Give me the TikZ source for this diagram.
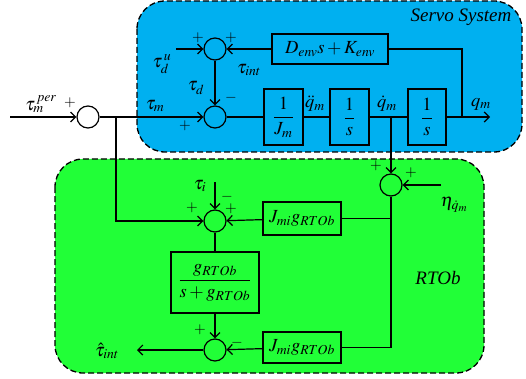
\documentclass[tikz,border=0pt]{standalone}
\usepackage{amsmath}
\usepackage{mathptmx}
\usepackage[no-math]{fontspec}
\setmainfont{Liberation Serif}
\usetikzlibrary{arrows.meta}
\definecolor{servoblue}{RGB}{0,176,240}
\definecolor{rtobgreen}{RGB}{33,255,55}
\begin{document}
\begin{tikzpicture}[x=1pt,y=-1pt,
  every node/.style={font=\fontsize{18.5}{20}\selectfont},
  sumnode/.style={circle,draw,line width=1.2pt,minimum size=22pt,inner sep=0pt},
  blockbox/.style={draw,line width=1.2pt,inner sep=0pt},
  region/.style={draw,dashed,dash pattern=on 6pt off 3pt,line width=1.3pt,rounded corners=28pt},
  sig/.style={line width=1.2pt},
  arr/.style={sig,-{Straight Barb[length=5pt,width=10pt,line width=1.2pt]}},
  sgn/.style={inner sep=0pt,font=\fontsize{15}{17}\selectfont},
  lbl/.style={inner sep=0pt}]
\useasboundingbox (0,0) rectangle (526,379);
% regions
\draw[region,fill=servoblue] (137,1) rectangle (522,152);
\draw[region,fill=rtobgreen] (55,159) rectangle (484,373);
\node[lbl,font=\fontsize{19}{21}\selectfont\itshape] (servo) at (461,17) {Servo System};
\node[lbl,font=\fontsize{19}{21}\selectfont\itshape] (rtob) at (438,278) {RTOb};
% sum junctions
\node[sumnode] (s1) at (88,117) {};
\node[sumnode] (s2) at (215,117) {};
\node[sumnode] (s3) at (215,49) {};
\node[sumnode] (s4) at (215,221) {};
\node[sumnode] (s5) at (391,185) {};
\node[sumnode] (s6) at (215,350) {};
% blocks
\node[blockbox,minimum width=116pt,minimum height=30pt] (benv) at (330,49) {$D_{env}s+K_{env}$};
\node[blockbox,minimum width=39pt,minimum height=56pt] (bJ) at (283.5,117) {$\dfrac{1}{J_m}$};
\node[blockbox,minimum width=39pt,minimum height=56pt] (bs1) at (349.5,117) {$\dfrac{1}{s}$};
\node[blockbox,minimum width=38pt,minimum height=56pt] (bs2) at (427,117) {$\dfrac{1}{s}$};
\node[blockbox,minimum width=78pt,minimum height=33pt] (bjg1) at (302,218.5) {$J_{mi}g_{RTOb}$};
\node[blockbox,minimum width=78pt,minimum height=31pt] (bjg2) at (302,347.5) {$J_{mi}g_{RTOb}$};
\node[blockbox,minimum width=88pt,minimum height=61pt] (bg) at (215,282.5) {$\dfrac{g_{RTOb}}{s+g_{RTOb}}$};
% free ends
\coordinate (in) at (10,117);
\coordinate (br1) at (116,117);
\coordinate (br1d) at (116,221);
\coordinate (tdu) at (176,49);
\coordinate (envc) at (462,49);
\coordinate (envd) at (462,117);
\coordinate (qdot) at (391,117);
\coordinate (out) at (490,117);
\coordinate (eta) at (441,185);
\coordinate (taui) at (215,182);
\coordinate (j1) at (391,218.5);
\coordinate (j2) at (391,347.5);
\coordinate (out2) at (137,350);
% connectors
\draw[arr] (in) -- (s1);
\draw[arr] (s1) -- (s2);
\draw[arr] (tdu) -- (s3);
\draw[arr] (benv) -- (s3);
\draw[arr] (s3) -- (s2);
\draw[sig] (benv.east) -- (envc) -- (envd);
\draw[sig] (s2) -- (bJ);
\draw[sig] (bJ) -- (bs1);
\draw[sig] (bs1) -- (bs2);
\draw[arr] (bs2) -- (out);
\draw[arr] (qdot) -- (s5);
\draw[arr] (eta) -- (s5);
\draw[sig] (s5) -- (j2) -- (bjg2);
\draw[sig] (j1) -- (bjg1);
\draw[arr] (bjg1) -- (s4);
\draw[arr] (bjg2) -- (s6);
\draw[arr] (br1) -- (br1d) -- (s4);
\draw[arr] (taui) -- (s4);
\draw[sig] (s4) -- (bg);
\draw[arr] (bg) -- (s6);
\draw[arr] (s6) -- (out2);
% signal labels
\node[lbl] (ltper) at (41,104) {$\tau_m^{\,per}$};
\node[lbl] (ltm) at (155,106) {$\tau_m$};
\node[lbl] (ltdu) at (162,64) {$\tau_d^{\,u}$};
\node[lbl] (ltint) at (249,70) {$\tau_{int}$};
\node[lbl] (ltd) at (196,88) {$\tau_d$};
\node[lbl] (lqdd) at (315,104) {$\ddot q_m$};
\node[lbl] (lqd) at (387,104) {$\dot q_m$};
\node[lbl] (lq) at (481,104) {$q_m$};
\node[lbl] (lti) at (200,186) {$\tau_i$};
\node[lbl] (leta) at (454,205) {$\eta_{\dot q_m}$};
\node[lbl] (lthat) at (107,351) {$\hat\tau_{int}$};
% signs
\node[sgn] at (70,103) {$+$};
\node[sgn] at (185,126) {$+$};
\node[sgn] at (231,98) {$-$};
\node[sgn] at (198,38) {$+$};
\node[sgn] at (231,38) {$+$};
\node[sgn] at (192,208) {$+$};
\node[sgn] at (227,197) {$-$};
\node[sgn] at (231,209) {$+$};
\node[sgn] at (376,166) {$+$};
\node[sgn] at (411,173) {$+$};
\node[sgn] at (200,330) {$+$};
\node[sgn] at (237,343) {$-$};
\end{tikzpicture}
\end{document}
